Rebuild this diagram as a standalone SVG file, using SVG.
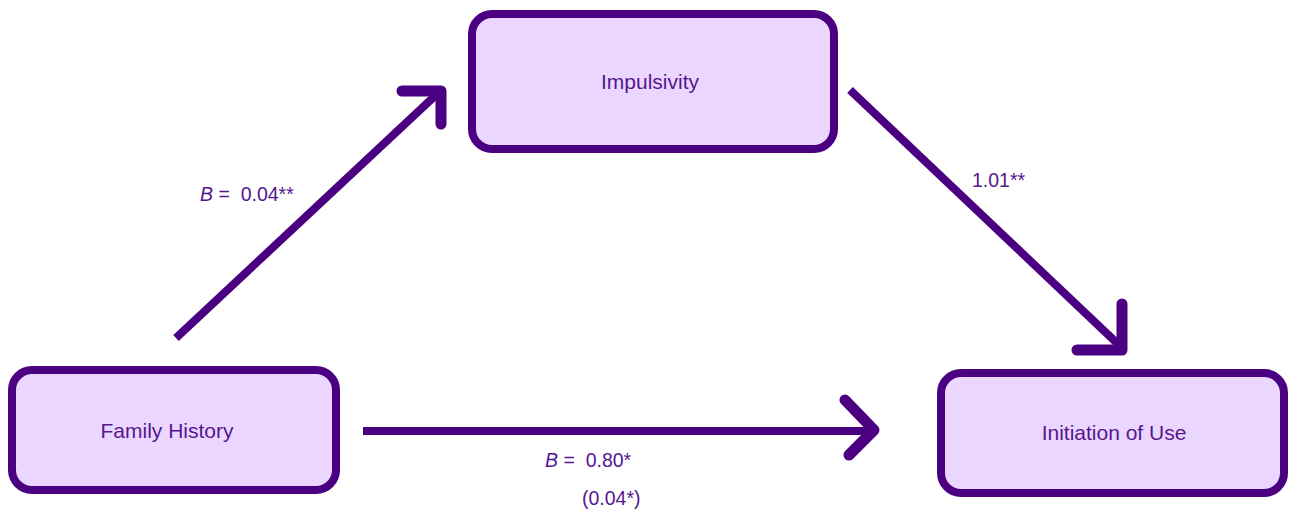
<svg xmlns="http://www.w3.org/2000/svg" width="1289" height="513" viewBox="0 0 1289 513">
<style>
.box{fill:#EBD6FF;stroke:#4B0082;stroke-width:8}
.lbl{font-family:"Liberation Sans",Arial,sans-serif;font-size:21px;fill:#55168F;text-anchor:middle}
.elbl{font-family:"Liberation Sans",Arial,sans-serif;font-size:19.5px;fill:#55168F;white-space:pre}
.edge{stroke:#4B0082;stroke-width:8;fill:none}
.head{stroke:#4B0082;stroke-width:11;fill:none;stroke-linecap:round;stroke-linejoin:round}
</style>
<rect width="1289" height="513" fill="#ffffff"/>
<g id="connectors">
<line class="edge" x1="176" y1="338" x2="437" y2="94"/>
<path class="head" d="M402 91 L441 91 L441 124"/>
<line class="edge" x1="850" y1="90" x2="1119" y2="345"/>
<path class="head" d="M1122 304 L1122 350 L1077 350"/>
<line class="edge" x1="363" y1="431" x2="872" y2="431"/>
<path class="head" d="M845 400 L874 430 L849 455"/>
</g>
<g id="impulsivity">
<rect class="box" x="472" y="14" width="362" height="135" rx="20"/>
<text class="lbl" x="650" y="89">Impulsivity</text>
</g>
<g id="family-history">
<rect class="box" x="12" y="370" width="324" height="120" rx="20"/>
<text class="lbl" x="167" y="438">Family History</text>
</g>
<g id="initiation-of-use">
<rect class="box" x="941" y="373" width="343" height="120" rx="20"/>
<text class="lbl" x="1114" y="440">Initiation of Use</text>
</g>
<g id="edge-labels">
<text class="elbl" x="200" y="201" xml:space="preserve"><tspan font-style="italic">B</tspan> =  0.04**</text>
<text class="elbl" x="972" y="187">1.01**</text>
<text class="elbl" x="545" y="467" xml:space="preserve"><tspan font-style="italic">B</tspan> =  0.80*</text>
<text class="elbl" x="582" y="505">(0.04*)</text>
</g>
</svg>
